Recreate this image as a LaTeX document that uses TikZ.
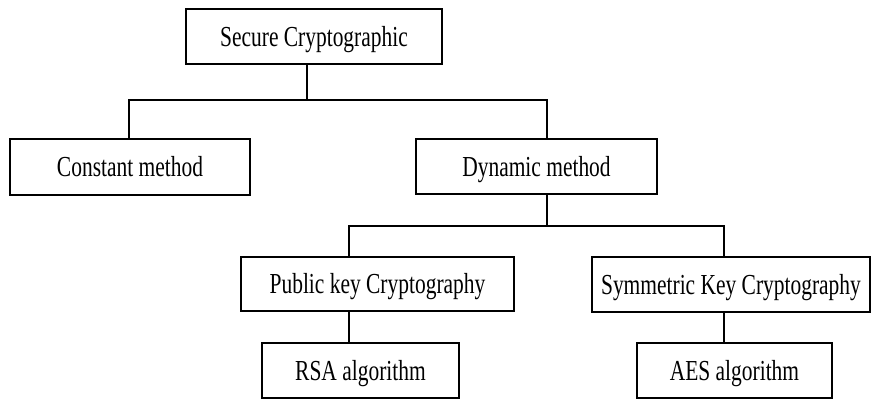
\documentclass[tikz,border=0pt]{standalone}
\usepackage{fontspec}
\setmainfont[FakeStretch=0.74]{Liberation Serif}
\begin{document}
\begin{tikzpicture}[x=1pt,y=-1pt,
  box/.style={draw, line width=1.2pt, rectangle, inner sep=0pt,
    font=\fontsize{29}{32}\selectfont, text height=19.2pt, text depth=0pt},
  link/.style={line width=1.2pt}]
  \useasboundingbox (0,0) rectangle (871,400);
  % boxes
  \node[box, minimum width=256pt, minimum height=55pt] (sec)   at (314,36.5)   {Secure Cryptographic};
  \node[box, minimum width=240pt, minimum height=56pt] (const) at (130,167)    {Constant method};
  \node[box, minimum width=241pt, minimum height=55pt] (dyn)   at (536.5,166.5){Dynamic method};
  \node[box, minimum width=273pt, minimum height=54pt] (pub)   at (377.5,284)  {Public key Cryptography};
  \node[box, minimum width=278pt, minimum height=55pt] (sym)   at (731,284.5)  {Symmetric Key Cryptography};
  \node[box, minimum width=197pt, minimum height=55pt] (rsa)   at (360.5,370.5){RSA algorithm};
  \node[box, minimum width=195pt, minimum height=55pt] (aes)   at (734.5,370.5){AES algorithm};
  % junction points of the tree
  \coordinate (j1)  at (307,100);
  \coordinate (b1l) at (129,100);
  \coordinate (b1r) at (547,100);
  \coordinate (j2)  at (547,226);
  \coordinate (b2l) at (349,226);
  \coordinate (b2r) at (724,226);
  % connectors
  \draw[link] (sec.south -| j1) -- (j1);
  \draw[link] (const.north -| b1l) -- (b1l) -- (b1r) -- (dyn.north -| b1r);
  \draw[link] (dyn.south -| j2) -- (j2);
  \draw[link] (pub.north -| b2l) -- (b2l) -- (b2r) -- (sym.north -| b2r);
  \draw[link] (pub.south -| b2l) -- (rsa.north -| b2l);
  \draw[link] (sym.south -| b2r) -- (aes.north -| b2r);
\end{tikzpicture}
\end{document}
